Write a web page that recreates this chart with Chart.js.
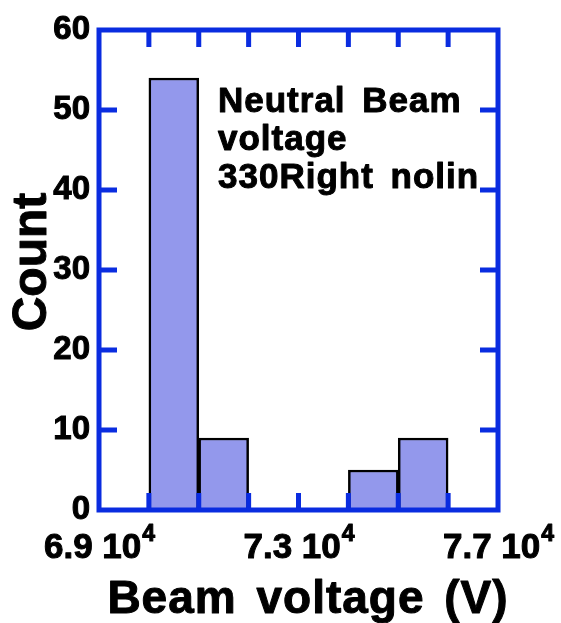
<!DOCTYPE html>
<html>
<head>
<meta charset="utf-8">
<script src="https://cdn.jsdelivr.net/npm/chart.js@4"></script>
<style>
  html, body { margin: 0; padding: 0; background: #fff; }
  #wrap { width: 561px; height: 623px; }
</style>
</head>
<body>
<div id="wrap"><canvas id="histChart" width="561" height="623"></canvas></div>
<script>
// 히스토그램 데이터 (빈 시작값, 빈 폭, 개수)
const binStarts = [70000, 71000, 74000, 75000];
const binWidth = 1000;
const counts = [54, 9, 5, 9];

// 축 눈금
const xLabelValues = [69000, 73000, 77000];
const xLabelTexts = ['6.9 10', '7.3 10', '7.7 10'];
const xLabelExp = '4';
const xMinorTicks = [70000, 71000, 72000, 73000, 74000, 75000, 76000];
const yTicks = [10, 20, 30, 40, 50];

const noteLines = ['Neutral Beam', 'voltage', '330Right nolin'];
const xTitle = 'Beam voltage (V)';
const yTitle = 'Count';

const FONT = '"Liberation Sans", Arial, Helvetica, sans-serif';
const AXIS_BLUE = '#0a2ce0';

// 굵게 보이도록 채우고 외곽선을 한 번 더 그림
function boldText(ctx, text, x, y) {
    ctx.fillText(text, x, y);
    ctx.strokeText(text, x, y);
}

// 프레임, 안쪽 눈금, 라벨, 제목을 그리는 플러그인
const framePlugin = {
    id: 'frame',
    afterDatasetsDraw(chart) {
        const ctx = chart.ctx;
        const area = chart.chartArea;
        const xs = chart.scales.x;
        const ys = chart.scales.y;
        ctx.save();
        ctx.strokeStyle = AXIS_BLUE;
        ctx.lineWidth = 5;
        ctx.lineJoin = 'miter';
        ctx.lineCap = 'butt';
        ctx.strokeRect(area.left, area.top, area.right - area.left, area.bottom - area.top);

        ctx.beginPath();
        xMinorTicks.forEach(v => {
            const px = xs.getPixelForValue(v);
            ctx.moveTo(px, area.bottom);
            ctx.lineTo(px, area.bottom - 17);
            ctx.moveTo(px, area.top);
            ctx.lineTo(px, area.top + 17);
        });
        yTicks.forEach(v => {
            const py = ys.getPixelForValue(v);
            ctx.moveTo(area.left, py);
            ctx.lineTo(area.left + 18, py);
            ctx.moveTo(area.right, py);
            ctx.lineTo(area.right - 18, py);
        });
        ctx.stroke();
        ctx.restore();
    },
    afterDraw(chart) {
        const ctx = chart.ctx;
        const xs = chart.scales.x;
        ctx.save();
        ctx.fillStyle = '#000';
        ctx.strokeStyle = '#000';
        ctx.lineWidth = 1;
        ctx.lineJoin = 'round';
        ctx.textBaseline = 'alphabetic';

        // x 눈금 라벨 (10의 지수는 위첨자로)
        xLabelValues.forEach((v, i) => {
            const px = xs.getPixelForValue(v);
            ctx.font = 'bold 35px ' + FONT;
            const mainW = ctx.measureText(xLabelTexts[i]).width;
            ctx.font = 'bold 23px ' + FONT;
            const expW = ctx.measureText(xLabelExp).width;
            const x0 = px - (mainW + expW) / 2;
            ctx.textAlign = 'left';
            ctx.font = 'bold 35px ' + FONT;
            boldText(ctx, xLabelTexts[i], x0, 558);
            ctx.font = 'bold 23px ' + FONT;
            boldText(ctx, xLabelExp, x0 + mainW + 1, 541);
        });

        // 축 제목
        ctx.font = 'bold 46px ' + FONT;
        ctx.letterSpacing = '1px';
        ctx.wordSpacing = '6px';
        ctx.textAlign = 'center';
        boldText(ctx, xTitle, 308, 613);

        ctx.save();
        ctx.translate(46, 262);
        ctx.rotate(-Math.PI / 2);
        ctx.font = 'bold 48px ' + FONT;
        ctx.letterSpacing = '0px';
        ctx.wordSpacing = '0px';
        boldText(ctx, yTitle, 0, 0);
        ctx.restore();

        // 그래프 안의 설명 문구
        ctx.font = 'bold 35px ' + FONT;
        ctx.letterSpacing = '1px';
        ctx.wordSpacing = '6px';
        ctx.textAlign = 'left';
        const baselines = [112, 150, 188];
        noteLines.forEach((t, i) => boldText(ctx, t, 218, baselines[i]));
        ctx.restore();
    }
};

const ctx = document.getElementById('histChart').getContext('2d');
new Chart(ctx, {
    type: 'bar',
    data: {
        datasets: [{
            label: 'Count',
            data: binStarts.map((s, i) => ({ x: s + binWidth / 2, y: counts[i] })),
            backgroundColor: '#9398ec',
            borderColor: '#000',
            borderWidth: 2.5,
            barPercentage: 1.0,
            categoryPercentage: 1.0
        }]
    },
    options: {
        responsive: false,
        animation: false,
        layout: {
            padding: { top: 30, right: 63, left: 0, bottom: 0 }
        },
        plugins: {
            legend: { display: false },
            tooltip: { enabled: false }
        },
        scales: {
            x: {
                type: 'linear',
                offset: false,
                min: 69000,
                max: 77000,
                grid: { display: false, offset: false },
                border: { display: false },
                ticks: { display: false },
                afterFit: scale => { scale.height = 113; }
            },
            y: {
                min: 0,
                max: 60,
                grid: { display: false, drawTicks: false },
                border: { display: false },
                ticks: {
                    stepSize: 10,
                    padding: 9,
                    color: '#000',
                    textStrokeColor: '#000',
                    textStrokeWidth: 1,
                    font: { size: 33, weight: 'bold', family: FONT }
                },
                afterFit: scale => { scale.width = 99; }
            }
        }
    },
    plugins: [framePlugin]
});
</script>
</body>
</html>
